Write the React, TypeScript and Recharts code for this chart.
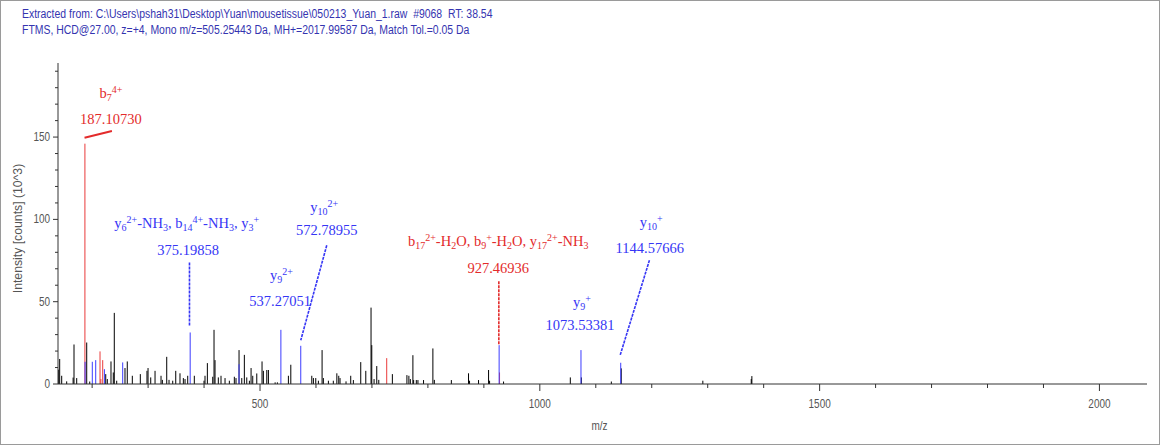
import React from "react";
import { ComposedChart, XAxis, YAxis, Scatter, ReferenceLine, Label } from "recharts";

const HEADER_1 =
  "Extracted from: C:\\Users\\pshah31\\Desktop\\Yuan\\mousetissue\\050213_Yuan_1.raw  #9068  RT: 38.54";
const HEADER_2 =
  "FTMS, HCD@27.00, z=+4, Mono m/z=505.25443 Da, MH+=2017.99587 Da, Match Tol.=0.05 Da";

const X_TICKS = [200, 300, 400, 500, 600, 700, 800, 900, 1000, 1100, 1200, 1300, 1400, 1500, 1600, 1700, 1800, 1900, 2000];
const X_LABELED = [500, 1000, 1500, 2000];
const Y_TICKS = [0, 10, 20, 30, 40, 50, 60, 70, 80, 90, 100, 110, 120, 130, 140, 150, 160, 170, 180, 190];
const Y_LABELED = [0, 50, 100, 150];

// [m/z, intensity (10^3 counts)]
const blackPeaks: [number, number][] = [
  [140.2, 8.7], [142.0, 15.2], [145.6, 5], [154.5, 1.6], [166.0, 3.9], [167.6, 24], [172.4, 3.6],
  [190.3, 25.2], [195.7, 1.5], [224.3, 6], [227.1, 3], [233.7, 13.7], [237.8, 7], [239.6, 43.2],
  [243.9, 2], [258.7, 9.7], [262.8, 13.7], [271.8, 5], [286.1, 6], [298.0, 8], [299.9, 9.7],
  [304.7, 4], [312.4, 8], [323.1, 5], [325.5, 2.5], [333.3, 16.5], [337.4, 2.5], [344.0, 2],
  [349.4, 8], [357.0, 6.5], [363.0, 3.6], [366.0, 3], [370.8, 5], [382.6, 5], [399.9, 2],
  [401.7, 5], [405.9, 12.7], [415.5, 4.4], [417.8, 32.9], [419.6, 14.5], [425.5, 4], [430.3, 5],
  [437.5, 3.6], [445.2, 2], [454.1, 4.4], [457.1, 3.6], [462.5, 20.6], [467.4, 3.6], [472.0, 17.7],
  [476.3, 4], [481.0, 2], [484.0, 9.7], [487.0, 5], [494.2, 6.4], [503.6, 13.7], [506.0, 8],
  [512.1, 8.5], [515.0, 8.5], [527.0, 1], [531.0, 1], [550.7, 5], [555.0, 11.7], [592.5, 5],
  [595.4, 3.6], [599.6, 3.6], [604.3, 2], [610.9, 20.6], [613.2, 3.6], [622.2, 2], [631.0, 2],
  [637.3, 6.5], [640.7, 5], [643.0, 3.6], [653.7, 1.6], [662.1, 5], [666.8, 2.4], [680.0, 13.3],
  [689.0, 8], [698.4, 46.4], [699.7, 23.6], [703.8, 3], [708.6, 10.9], [712.2, 2.5], [736.5, 6],
  [762.5, 5.4], [766.0, 5], [768.6, 3], [773.2, 17.5], [774.5, 2.4], [779.3, 2.4], [782.2, 2.4],
  [792.2, 2.4], [808.9, 21.6], [811.5, 2.5], [841.9, 2.4], [872.6, 6.5], [874.4, 2], [890.5, 2.4],
  [908.4, 8.5], [910.2, 2], [935.2, 1.5], [1054.5, 4], [1074.2, 4], [1127.8, 1.5], [1145.5, 9.5],
  [1291.3, 2], [1377.8, 3], [1378.9, 4.8],
];

const redPeaks: [number, number][] = [
  [187.1073, 146], [214.1, 19.8], [215.6, 3], [218.9, 14.5], [726.4, 15.7], [928.0, 7],
];

const bluePeaks: [number, number][] = [
  [187.4, 13.5], [200.3, 13.5], [206.4, 14.5], [221.9, 9], [254.6, 13.1], [375.19858, 31.3],
  [462.5, 12], [537.27051, 32.9], [572.78955, 23.2], [927.3, 23.6], [1073.53381, 20.6], [1144.57666, 12.9],
];

// annotated fragment ions
const annotMz = [187.1073, 375.19858, 537.27051, 572.78955, 927.46936, 1073.53381, 1144.57666];
const annotIntensity = [146, 31.3, 32.9, 23.2, 23.6, 20.6, 12.9];
const annotIons = [
  "b_{7}^{4+}",
  "y_{6}^{2+}-NH_{3}, b_{14}^{4+}-NH_{3}, y_{3}^{+}",
  "y_{9}^{2+}",
  "y_{10}^{2+}",
  "b_{17}^{2+}-H_{2}O, b_{9}^{+}-H_{2}O, y_{17}^{2+}-NH_{3}",
  "y_{9}^{+}",
  "y_{10}^{+}",
];
const annotText = ["187.10730", "375.19858", "537.27051", "572.78955", "927.46936", "1073.53381", "1144.57666"];
const annotType = ["b", "y", "y", "y", "b", "y", "y"];

// label placement, pixels relative to the peak top
const annotLayout = [
  { l1: [26, -46], l2: [26, -20], lead: [-0.4, -6, 27, -12.6], dashed: false },
  { l1: [-3.5, -104], l2: [-2, -77], lead: [-0.7, -70, -0.7, -6], dashed: true },
  { l1: [0.5, -50], l2: [-0.8, -24], lead: null, dashed: false },
  { l1: [23.5, -134], l2: [26, -110.5], lead: [26, -100.5, 0, -5.5], dashed: true },
  { l1: [-1, -99], l2: [-1, -72], lead: [-0.4, -64, -0.4, 0], dashed: true },
  { l1: [1, -43.5], l2: [-1, -20.5], lead: null, dashed: false },
  { l1: [30.5, -136], l2: [29, -109.5], lead: [28.7, -102.5, -0.6, -7.5], dashed: true },
];

const RED = "#e32b2b";
const BLUE = "#3636f5";
const RED_PEAK = "#ea3a3a";
const BLUE_PEAK = "#3c3cff";
const SANS = "'Liberation Sans', Arial, sans-serif";
const SERIF = "'Liberation Serif', 'Times New Roman', serif";
const NARROW_X = 0.83;

const annotations = annotMz.map((mz, i) => ({
  mz,
  intensity: annotIntensity[i],
  ion: annotIons[i],
  text: annotText[i],
  color: annotType[i] === "b" ? RED : BLUE,
  idx: i,
}));

function parseIon(s: string) {
  const parts: { t: string; k: "n" | "sub" | "sup" }[] = [];
  const re = /(_\{[^}]*\}|\^\{[^}]*\}|[^_^]+)/g;
  let m: RegExpExecArray | null;
  while ((m = re.exec(s))) {
    const tok = m[0];
    if (tok.startsWith("_{")) parts.push({ t: tok.slice(2, -1), k: "sub" });
    else if (tok.startsWith("^{")) parts.push({ t: tok.slice(2, -1), k: "sup" });
    else parts.push({ t: tok, k: "n" });
  }
  return parts;
}

function IonText({ x, y, ion, color }: { x: number; y: number; ion: string; color: string }) {
  let cur = 0;
  const parts = parseIon(ion);
  return (
    <text x={x} y={y} textAnchor="middle" fontFamily={SERIF} fontSize={14.5} fill={color} style={{ whiteSpace: "pre" }}>
      {parts.map((p, i) => {
        const target = p.k === "sub" ? 3 : p.k === "sup" ? -5 : 0;
        const dy = target - cur;
        cur = target;
        return (
          <tspan key={i} dy={dy} fontSize={p.k === "n" ? 14.5 : 10}>
            {p.t}
          </tspan>
        );
      })}
    </text>
  );
}

function AnnotationShape(props: any) {
  const { cx, cy, payload } = props;
  if (cx == null || cy == null || !payload) return null;
  const lay = annotLayout[payload.idx];
  return (
    <g>
      {lay.lead && (
        <line
          x1={cx + lay.lead[0]}
          y1={cy + lay.lead[1]}
          x2={cx + lay.lead[2]}
          y2={cy + lay.lead[3]}
          stroke={payload.color}
          strokeWidth={lay.dashed ? 1.6 : 2}
          strokeDasharray={lay.dashed ? "3 1" : undefined}
        />
      )}
      <IonText x={cx + lay.l1[0]} y={cy + lay.l1[1]} ion={payload.ion} color={payload.color} />
      <text x={cx + lay.l2[0]} y={cy + lay.l2[1]} textAnchor="middle" fontFamily={SERIF} fontSize={14.5} fill={payload.color}>
        {payload.text}
      </text>
    </g>
  );
}

function NarrowText({ x, y, anchor, rotate, squeeze = NARROW_X, children }: any) {
  return (
    <text
      transform={`translate(${x},${y})${rotate ? ` rotate(${rotate})` : ""} scale(${squeeze},1)`}
      textAnchor={anchor}
      fontFamily={SANS}
      fontSize={12}
      fill="#555"
    >
      {children}
    </text>
  );
}

function XTick(props: any) {
  const { x, y, payload } = props;
  const major = X_LABELED.includes(payload.value);
  return (
    <g>
      <line x1={x} x2={x} y1={y} y2={y + (major ? 7 : 4)} stroke="#333" />
      {major && (
        <NarrowText x={x} y={y + 24} anchor="middle">
          {payload.value}
        </NarrowText>
      )}
    </g>
  );
}

function YTick(props: any) {
  const { x, y, payload } = props;
  const major = Y_LABELED.includes(payload.value);
  return (
    <g>
      <line x1={x - (major ? 5 : 3)} x2={x} y1={y} y2={y} stroke="#333" />
      {major && (
        <NarrowText x={x - 8} y={y + 4} anchor="end">
          {payload.value}
        </NarrowText>
      )}
    </g>
  );
}

function peakLines(peaks: [number, number][], color: string, key: string) {
  return peaks.map(([mz, h], i) => (
    <ReferenceLine
      key={key + i}
      segment={[
        { x: mz, y: 0 },
        { x: mz, y: h },
      ]}
      stroke={color}
      strokeWidth={1}
      ifOverflow="visible"
    />
  ));
}

export default function App() {
  return (
    <div
      style={{
        position: "relative",
        width: 1160,
        height: 445,
        boxSizing: "border-box",
        border: "1px solid #9a9a9a",
        background: "#fff",
      }}
    >
      <style>{"body{margin:0}"}</style>
      <div
        style={{
          position: "absolute",
          left: 21,
          top: 5,
          fontFamily: SANS,
          fontSize: 12,
          lineHeight: "16px",
          color: "#3434b0",
          whiteSpace: "pre",
          transform: "scaleX(0.87)",
          transformOrigin: "0 0",
        }}
      >
        <div>{HEADER_1}</div>
        <div>{HEADER_2}</div>
      </div>
      <ComposedChart width={1158} height={443} margin={{ top: 62, right: 12, bottom: 0, left: 0 }}>
        <XAxis
          type="number"
          dataKey="mz"
          domain={[139, 2085]}
          ticks={X_TICKS}
          interval={0}
          allowDataOverflow
          height={60}
          tickSize={0}
          tickMargin={0}
          tickLine={false}
          axisLine={{ stroke: "#333" }}
          tick={<XTick />}
        >
          <Label
            content={({ viewBox }: any) => (
              <NarrowText x={viewBox.x + viewBox.width / 2 - 3} y={viewBox.y + 46} anchor="middle">
                m/z
              </NarrowText>
            )}
          />
        </XAxis>
        <YAxis
          type="number"
          dataKey="intensity"
          domain={[0, 195]}
          ticks={Y_TICKS}
          interval={0}
          allowDataOverflow
          width={57}
          tickSize={0}
          tickMargin={0}
          tickLine={false}
          axisLine={{ stroke: "#333" }}
          tick={<YTick />}
        >
          <Label
            content={({ viewBox }: any) => (
              <NarrowText
                x={viewBox.x + 21}
                y={viewBox.y + viewBox.height / 2 + 5}
                anchor="middle"
                rotate={-90}
                squeeze={1.02}
              >
                Intensity [counts] (10^3)
              </NarrowText>
            )}
          />
        </YAxis>
        {peakLines(blackPeaks, "#000", "k")}
        {peakLines(redPeaks, RED_PEAK, "r")}
        {peakLines(bluePeaks, BLUE_PEAK, "b")}
        <Scatter
          data={annotations}
          dataKey="intensity"
          isAnimationActive={false}
          shape={(p: any) => <AnnotationShape {...p} />}
        />
      </ComposedChart>
    </div>
  );
}
